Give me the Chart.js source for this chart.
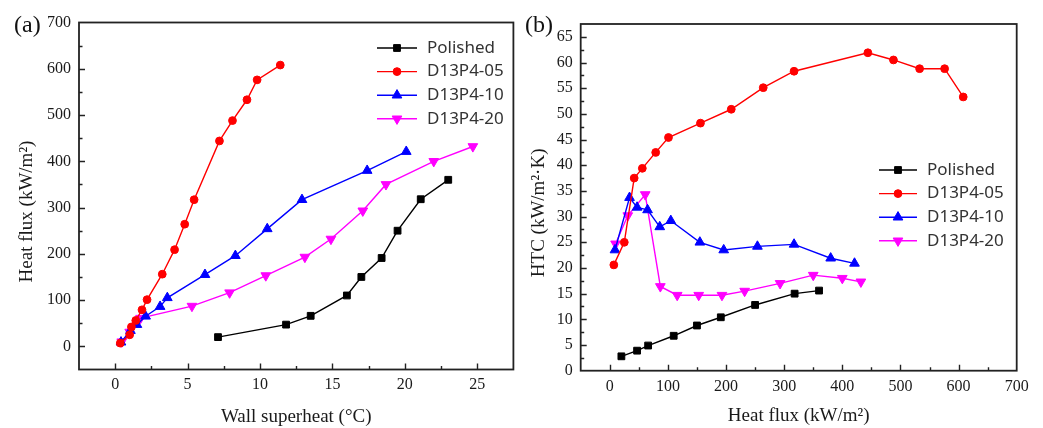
<!DOCTYPE html>
<html>
<head>
<meta charset="utf-8">
<script src="https://cdn.jsdelivr.net/npm/chart.js@4.4.1/dist/chart.umd.min.js"></script>
<style>
  html, body { margin: 0; padding: 0; background: #ffffff; }
  #wrap { position: relative; width: 1043px; height: 428px; overflow: hidden; background: #ffffff; }
  .panel { position: absolute; top: 0; height: 428px; }
  #pa { left: 0; width: 520px; }
  #pb { left: 520px; width: 523px; }
  .tag { position: absolute; font-family: "Liberation Serif", "Times New Roman", serif; font-size: 24px; line-height: 1; color: #111; }
</style>
</head>
<body>
<div id="wrap">
  <div class="panel" id="pa"><canvas id="ca" width="520" height="428"></canvas></div>
  <div class="panel" id="pb"><canvas id="cb" width="523" height="428"></canvas></div>
  <span class="tag" style="left:14px;top:12px">(a)</span>
  <span class="tag" style="left:525px;top:12px">(b)</span>
</div>
<script>
// ---- data: wall superheat (°C), heat flux (kW/m²), HTC (kW/m²·K) per surface ----
const seriesNames = ['Polished', 'D13P4-05', 'D13P4-10', 'D13P4-20'];

const superheatPolished = [7.1, 11.8, 13.5, 16.0, 17.0, 18.4, 19.5, 21.1, 23.0];
const fluxPolished      = [20, 47, 66, 110, 150, 191, 250, 318, 360];
const htcPolished       = [2.8, 3.9, 4.9, 6.8, 8.8, 10.4, 12.8, 15.0, 15.6];

const superheat05 = [0.35, 1.0, 1.12, 1.42, 1.85, 2.2, 3.25, 4.1, 4.8, 5.45, 7.2, 8.1, 9.1, 9.8, 11.4];
const flux05      = [7, 25, 42, 56, 79, 101, 156, 209, 264, 317, 444, 488, 533, 576, 608];
const htc05       = [20.6, 25.0, 37.5, 39.4, 42.5, 45.4, 48.2, 50.9, 55.1, 58.3, 61.9, 60.5, 58.8, 58.8, 53.3];

const superheat10 = [0.4, 1.05, 1.5, 2.1, 3.1, 3.6, 6.2, 8.3, 10.5, 12.9, 17.4, 20.1];
const flux10      = [9, 34, 47, 65, 86, 105, 155, 196, 254, 317, 380, 421];
const htc10       = [23.5, 33.7, 31.8, 31.3, 28.0, 29.2, 25.0, 23.5, 24.2, 24.6, 21.9, 20.9];

const superheat20 = [0.45, 1.0, 1.75, 5.3, 7.9, 10.4, 13.1, 14.9, 17.1, 18.7, 22.0, 24.7];
const flux20      = [10, 31, 61, 87, 116, 153, 193, 232, 293, 350, 400, 432];
const htc20       = [24.7, 30.2, 34.3, 16.4, 14.7, 14.7, 14.7, 15.5, 17.0, 18.6, 18.0, 17.3];

// ---- tick labels ----
const superheatTicks = [0, 5, 10, 15, 20, 25];
const fluxTicksA     = [0, 100, 200, 300, 400, 500, 600, 700];
const fluxTicksB     = [0, 100, 200, 300, 400, 500, 600, 700];
const htcTicks       = [0, 5, 10, 15, 20, 25, 30, 35, 40, 45, 50, 55, 60, 65];

// ---- styles ----
const seriesColors = ['#000000', '#ff0000', '#0000ff', '#ff00ff'];
const seriesMarkers = [
  { pointStyle: 'rect', radius: 4.8, rotation: 0 },
  { pointStyle: 'circle', radius: 3.9, rotation: 0 },
  { pointStyle: 'triangle', radius: 5.6, rotation: 0 },
  { pointStyle: 'triangle', radius: 5.6, rotation: 180 }
];

const serif = '"Liberation Serif", "Times New Roman", serif';
const sans = '"Noto Sans", "DejaVu Sans", sans-serif';

function pairs(xs, ys) { return xs.map((x, i) => ({ x: x, y: ys[i] })); }

function makeDatasets(xsList, ysList) {
  return seriesNames.map((name, i) => ({
    label: name,
    data: pairs(xsList[i], ysList[i]),
    showLine: true,
    borderColor: seriesColors[i],
    backgroundColor: seriesColors[i],
    borderWidth: 1.4,
    pointStyle: seriesMarkers[i].pointStyle,
    pointRadius: seriesMarkers[i].radius,
    pointRotation: seriesMarkers[i].rotation,
    pointBackgroundColor: seriesColors[i],
    pointBorderColor: seriesColors[i],
    pointBorderWidth: 1,
    pointHoverRadius: seriesMarkers[i].radius
  }));
}

// Box frame around the plot area with inward major/minor ticks on the left and bottom axes
const frameTicks = {
  id: 'frameTicks',
  afterDatasetsDraw(chart, args, opts) {
    const { ctx, chartArea: a } = chart;
    ctx.save();
    ctx.strokeStyle = opts.color;
    ctx.lineWidth = 1.4;
    ctx.beginPath();
    ['x', 'y'].forEach(id => {
      const s = chart.scales[id];
      const majors = s.ticks.map(t => t.value);
      const step = majors[1] - majors[0];
      const minors = [];
      majors.forEach(v => { minors.push(v - step / 2); });
      minors.push(majors[majors.length - 1] + step / 2);
      const mark = (v, len) => {
        if (v <= s.min || v >= s.max) return;
        const p = Math.round(s.getPixelForValue(v)) + 0.5;
        if (s.isHorizontal()) { ctx.moveTo(p, a.bottom); ctx.lineTo(p, a.bottom - len); }
        else { ctx.moveTo(a.left, p); ctx.lineTo(a.left + len, p); }
      };
      majors.forEach(v => mark(v, opts.major));
      minors.forEach(v => mark(v, opts.minor));
    });
    ctx.stroke();
    ctx.lineWidth = opts.frameWidth;
    ctx.strokeRect(a.left, a.top, a.right - a.left, a.bottom - a.top);
    ctx.restore();
  }
};

// Series key: line segment with its marker, followed by the series name
const seriesKey = {
  id: 'seriesKey',
  afterDraw(chart, args, opts) {
    const ctx = chart.ctx;
    ctx.save();
    chart.data.datasets.forEach((ds, i) => {
      const y = opts.y + i * opts.step;
      ctx.strokeStyle = ds.borderColor;
      ctx.lineWidth = ds.borderWidth;
      ctx.beginPath();
      ctx.moveTo(opts.x, y);
      ctx.lineTo(opts.x + opts.line, y);
      ctx.stroke();
      ctx.fillStyle = ds.pointBackgroundColor;
      ctx.strokeStyle = ds.pointBorderColor;
      ctx.lineWidth = 1;
      Chart.helpers.drawPoint(ctx, {
        pointStyle: ds.pointStyle, radius: ds.pointRadius,
        rotation: ds.pointRotation, borderWidth: 1
      }, opts.x + opts.line / 2, y);
      ctx.fillStyle = opts.color;
      ctx.font = opts.font;
      ctx.textAlign = 'left';
      ctx.textBaseline = 'middle';
      ctx.fillText(ds.label, opts.x + opts.line + opts.gap, y);
    });
    ctx.restore();
  }
};

// Centres the vertical axis title over the plot plus the horizontal axis band
const titleShift = {
  id: 'titleShift',
  beforeDraw(chart, args, opts) {
    const s = chart.scales.y;
    s._keptBottom = s.bottom;
    s.bottom = s.bottom + opts.shift * 2;
  },
  afterDraw(chart) {
    const s = chart.scales.y;
    if (s._keptBottom !== undefined) s.bottom = s._keptBottom;
  }
};

function buildChart(canvas, cfg) {
  return new Chart(canvas, {
    type: 'scatter',
    data: { datasets: cfg.datasets },
    plugins: [titleShift, frameTicks, seriesKey],
    options: {
      responsive: false,
      animation: false,
      devicePixelRatio: 1,
      layout: { padding: cfg.padding },
      plugins: {
        legend: { display: false },
        tooltip: { enabled: false },
        frameTicks: { color: '#222222', major: 6, minor: 3.5, frameWidth: 1.8 },
        seriesKey: cfg.key,
        titleShift: { shift: 15.5 }
      },
      scales: {
        x: {
          type: 'linear', position: 'bottom',
          min: cfg.xMin, max: cfg.xMax,
          afterBuildTicks: s => { s.ticks = cfg.xTicks.map(v => ({ value: v })); },
          afterFit: s => { s.height = cfg.xHeight; },
          grid: { display: false, drawTicks: false },
          border: { display: false },
          ticks: { font: { family: serif, size: 16 }, color: '#1a1a1a', padding: 6, maxRotation: 0, autoSkip: false },
          title: { display: true, text: cfg.xTitle, color: '#1a1a1a',
                   font: { family: serif, size: 19, lineHeight: 1 }, padding: { top: 0, bottom: cfg.xTitlePad } }
        },
        y: {
          type: 'linear', position: 'left',
          min: cfg.yMin, max: cfg.yMax,
          afterBuildTicks: s => { s.ticks = cfg.yTicks.map(v => ({ value: v })); },
          afterFit: s => { s.width = cfg.yWidth; },
          grid: { display: false, drawTicks: false },
          border: { display: false },
          ticks: { font: { family: serif, size: 16 }, color: '#1a1a1a', padding: 8, autoSkip: false },
          title: { display: true, text: cfg.yTitle, color: '#1a1a1a',
                   font: { family: serif, size: 19, lineHeight: 1 }, padding: { top: cfg.yTitlePad, bottom: 0 } }
        }
      }
    }
  });
}

// (a) boiling curves: heat flux against wall superheat
buildChart(document.getElementById('ca'), {
  datasets: makeDatasets(
    [superheatPolished, superheat05, superheat10, superheat20],
    [fluxPolished, flux05, flux10, flux20]),
  padding: { left: 0, right: 5, top: 22.5, bottom: 0 },
  xMin: -2.5, xMax: 27.5, xTicks: superheatTicks, xHeight: 428 - 369.5,
  yMin: -50, yMax: 700, yTicks: fluxTicksA, yWidth: 79,
  xTitle: 'Wall superheat (°C)', xTitlePad: 1,
  yTitle: 'Heat flux (kW/m²)', yTitlePad: 18,
  key: { x: 377, y: 48, step: 23.6, line: 40, gap: 10, color: '#333333', font: '17px ' + sans }
});

// (b) heat transfer coefficient against heat flux
buildChart(document.getElementById('cb'), {
  datasets: makeDatasets(
    [fluxPolished, flux05, flux10, flux20],
    [htcPolished, htc05, htc10, htc20]),
  padding: { left: 0, right: 26.3, top: 24, bottom: 0 },
  xMin: -50, xMax: 700, xTicks: fluxTicksB, xHeight: 428 - 370.7,
  yMin: 0, yMax: 67.5, yTicks: htcTicks, yWidth: 60.7,
  xTitle: 'Heat flux (kW/m²)', xTitlePad: 2,
  yTitle: 'HTC (kW/m²·K)', yTitlePad: 10,
  key: { x: 359, y: 170, step: 23.6, line: 38, gap: 10, color: '#333333', font: '17px ' + sans }
});
</script>
</body>
</html>
